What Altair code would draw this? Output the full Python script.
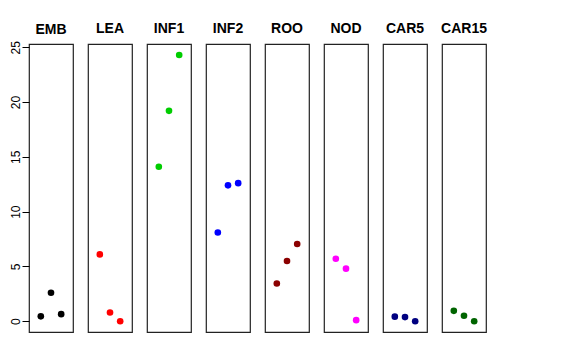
import altair as alt
import pandas as pd

panels = ["EMB", "LEA", "INF1", "INF2", "ROO", "NOD", "CAR5", "CAR15"]
colors = ["#000000", "#FF0000", "#00CD00", "#0000FF", "#8B0000", "#FF00FF", "#000080", "#006400"]
positions = [1, 2, 3]
values = {
    "EMB": [0.45, 2.6, 0.65],
    "LEA": [6.1, 0.8, 0.0],
    "INF1": [14.1, 19.2, 24.3],
    "INF2": [8.1, 12.4, 12.6],
    "ROO": [3.45, 5.5, 7.05],
    "NOD": [5.7, 4.8, 0.1],
    "CAR5": [0.42, 0.38, 0.0],
    "CAR15": [0.95, 0.5, 0.0],
}
y_ticks = [0, 5, 10, 15, 20, 25]

rows = []
for p in panels:
    for x, v in zip(positions, values[p]):
        rows.append({"panel": p, "idx": x, "value": v})
df = pd.DataFrame(rows)

ydom = [-0.98, 25.3]
xdom = [-0.16, 4.16]

charts = []
for i, (p, c) in enumerate(zip(panels, colors)):
    if i == 0:
        yaxis = alt.Axis(values=y_ticks, labelAngle=270, labelAlign="center", labelBaseline="bottom",
                         labelFontSize=12, labelFont="Liberation Sans", labelColor="black",
                         tickSize=7, tickColor="black", labelPadding=0, domain=False, grid=False, title="")
        toff = 4
    else:
        yaxis = None
        toff = 8
    ch = alt.Chart(df[df.panel == p]).mark_circle(size=44, opacity=1, color=c).encode(
        x=alt.X("idx:Q", scale=alt.Scale(domain=xdom, nice=False, zero=False), axis=None),
        y=alt.Y("value:Q", scale=alt.Scale(domain=ydom, nice=False, zero=False), axis=yaxis),
    ).properties(
        width=44, height=288,
        title=alt.TitleParams(p, fontSize=14, font="Liberation Sans", fontWeight="bold",
                              anchor="middle", frame="group", offset=toff, color="black"),
    )
    charts.append(ch)

chart = alt.hconcat(*charts, spacing=15, bounds="flush").properties(
    padding={"left": 0, "top": 13, "right": 5, "bottom": 5}
).configure_view(stroke="#222222", strokeWidth=1.2)

chart.save("out.html", embed_options={"renderer": "svg", "actions": False})
